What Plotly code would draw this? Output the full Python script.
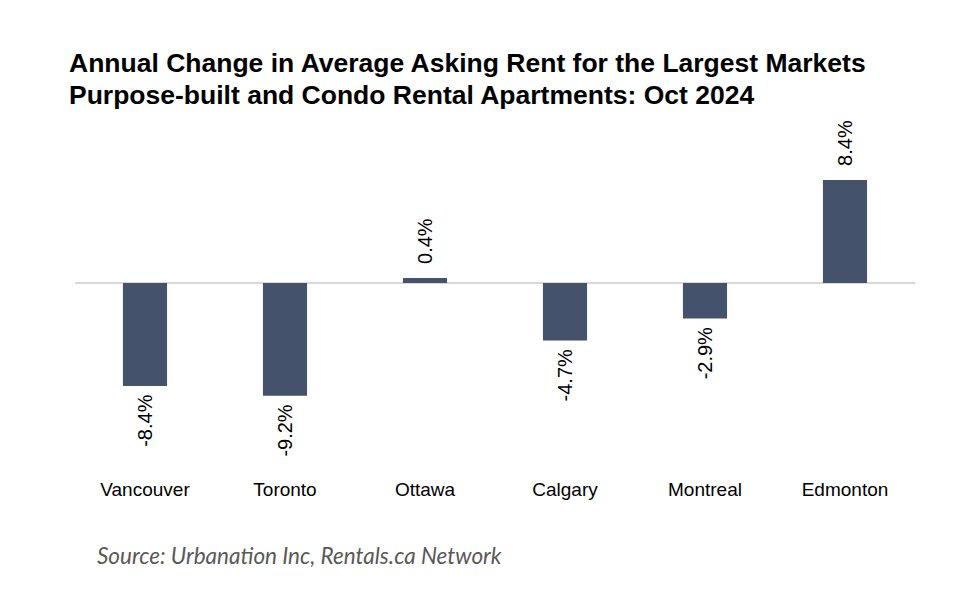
import plotly.graph_objects as go

cities = ["Vancouver", "Toronto", "Ottawa", "Calgary", "Montreal", "Edmonton"]
change = [-8.4, -9.2, 0.4, -4.7, -2.9, 8.4]
labels = [("\u00a0\u00a0" + f"{v:.1f}%") if v >= 0 else (f"{v:.1f}%" + "\u00a0") for v in change]

title_line1 = "Annual Change in Average Asking Rent for the Largest Markets"
title_line2 = "Purpose-built and Condo Rental Apartments: Oct 2024"
source_text = "Source: Urbanation Inc, Rentals.ca Network"

W, H = 980, 595
OFF = 8  # page body offset
left, right, top, bottom = 75 - OFF, 915 - OFF, 112 - OFF, 476 - OFF
zero_px = 283 - OFF
px_per_unit = 12.26
ymax = (zero_px - top) / px_per_unit
ymin = -(bottom - zero_px) / px_per_unit


def py(screen_y):
    return (bottom - (screen_y - OFF)) / (bottom - top)


def px(screen_x):
    return ((screen_x - OFF) - left) / (right - left)


fig = go.Figure(go.Bar(
    x=cities, y=change, text=labels, textposition="outside", textangle=-90,
    constraintext="none",
    marker=dict(color="#44526b", line=dict(color="#44526b", width=0)),
    textfont=dict(family="Liberation Sans, Arial", size=20, color="#000000"),
    cliponaxis=False, width=0.315,
))

title_font = dict(family="Liberation Sans, Arial", size=26.5, color="#000000", weight="bold")

fig.update_layout(
    width=W, height=H,
    margin=dict(l=left, r=W - right, t=top, b=H - bottom),
    plot_bgcolor="white", paper_bgcolor="white",
    showlegend=False,
    xaxis=dict(showgrid=False, showline=False, ticks="",
               tickfont=dict(family="Liberation Sans, Arial", size=19, color="#000000")),
    yaxis=dict(range=[ymin, ymax], showgrid=False, showticklabels=False,
               zeroline=True, zerolinecolor="#d9d9d9", zerolinewidth=2,
               showline=False),
    annotations=[
        dict(text=title_line1, xref="paper", yref="paper", x=px(67), y=py(63),
             xanchor="left", yanchor="middle", showarrow=False, font=title_font),
        dict(text=title_line2, xref="paper", yref="paper", x=px(67), y=py(95),
             xanchor="left", yanchor="middle", showarrow=False, font=title_font),
        dict(text=source_text, xref="paper", yref="paper",
             x=px(95), y=py(555),
             xanchor="left", yanchor="middle", showarrow=False,
             font=dict(family="Lato, Open Sans", size=22.5, color="#595959",
                       style="italic")),
    ],
)

fig.write_html("out.html")
